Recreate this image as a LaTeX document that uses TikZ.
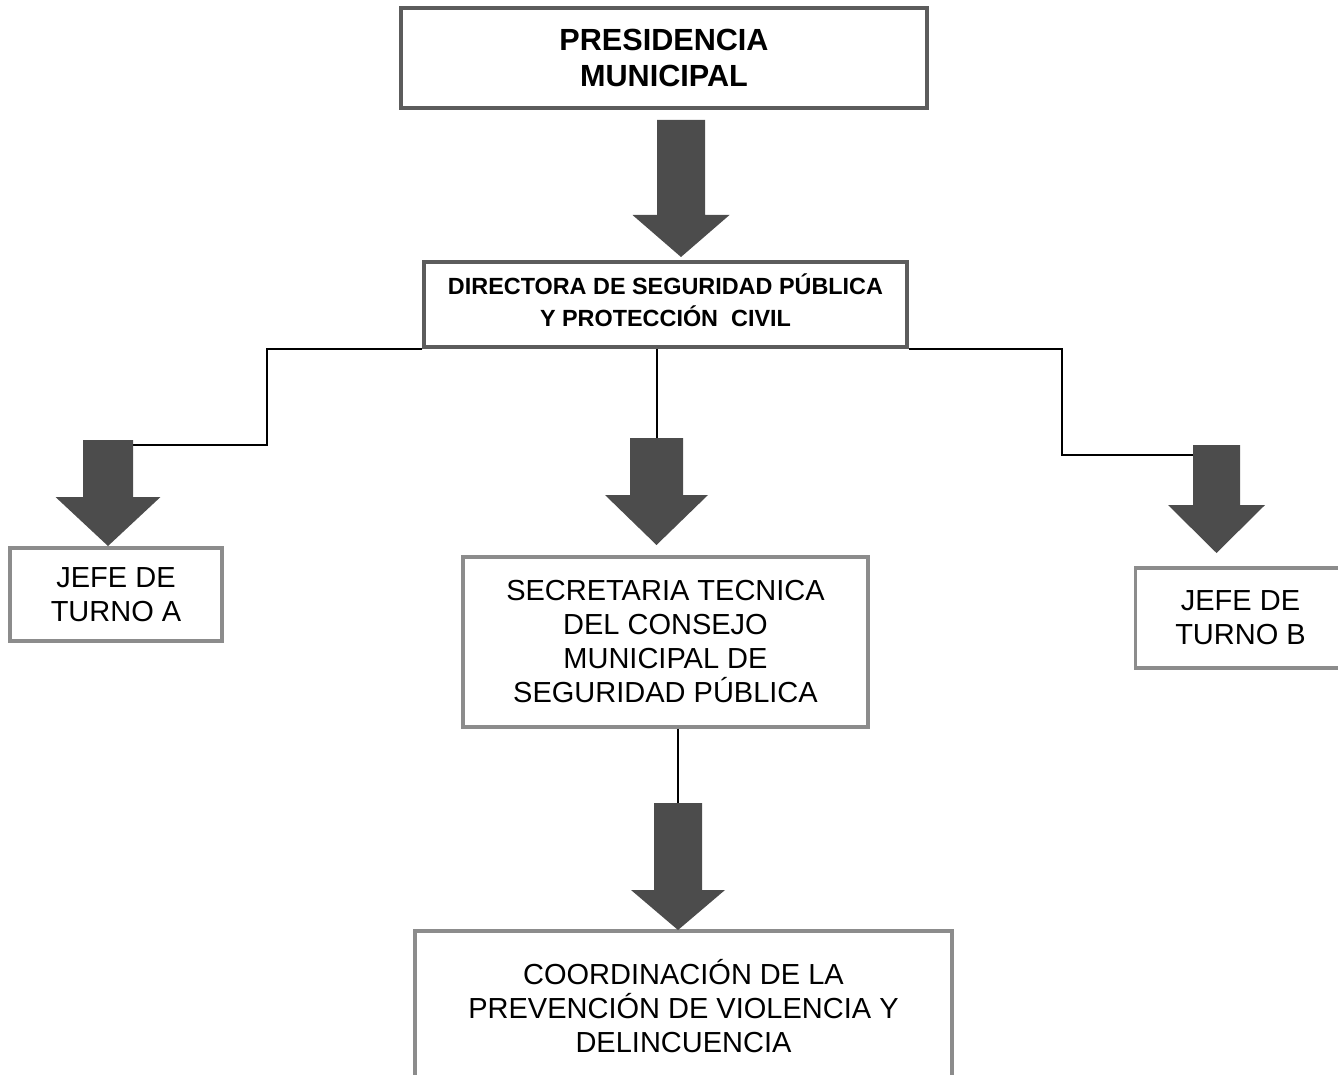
\documentclass[tikz,border=0pt]{standalone}
\usepackage{fontspec}
\setmainfont{Liberation Sans}
\usetikzlibrary{calc}

\definecolor{boxgray}{HTML}{8C8C8C}
\definecolor{darkedge}{HTML}{5C5C5C}
\definecolor{arrowgray}{HTML}{4C4C4C}

% block arrow: name, x, top y, neck y, tip y, shaft half width, head half width
\newcommand{\blockarrow}[7]{%
  \coordinate (#1) at (#2,#3);
  \coordinate (#1 tip) at (#2,#5);
  \fill[bigarrow] (#2-#6,#3) -- (#2+#6,#3) -- (#2+#6,#4) -- (#2+#7,#4)
    -- (#1 tip) -- (#2-#7,#4) -- (#2-#6,#4) -- cycle;}

\begin{document}
\begin{tikzpicture}[x=0.5pt, y=-0.5pt,
    unitbox/.style={draw=boxgray, line width=1.6pt, fill=white, align=center,
      inner sep=0pt, font=\fontsize{14.5}{17}\selectfont},
    headbox/.style={unitbox, draw=darkedge, font=\bfseries\fontsize{15.3}{18}\selectfont},
    dirbox/.style={unitbox, draw=darkedge, font=\bfseries\fontsize{11.7}{16}\selectfont},
    link/.style={line width=1pt, black},
    bigarrow/.style={fill=arrowgray}]
        \useasboundingbox (0,0) rectangle (1338,1075);

        \node[headbox, minimum width=263pt, minimum height=50pt] (pres) at (664,58)
            {PRESIDENCIA\\MUNICIPAL};
        \node[dirbox, minimum width=241.5pt, minimum height=42.5pt] (dir) at (665.5,304.5)
            {\raisebox{2.5pt}{\begin{tabular}{@{}c@{}}DIRECTORA DE SEGURIDAD PÚBLICA\\
              Y PROTECCIÓN\ \ CIVIL\end{tabular}}};

        \node[unitbox, minimum width=106pt, minimum height=46.5pt] (jefeA) at (116,594.5)
            {JEFE DE\\TURNO A};
        \node[unitbox, minimum width=202.5pt, minimum height=85pt] (secre) at (665.5,642)
            {SECRETARIA TECNICA\\DEL CONSEJO\\MUNICIPAL DE\\SEGURIDAD PÚBLICA};
        \node[unitbox, minimum width=105pt, minimum height=50pt] (jefeB) at (1240.5,618)
            {JEFE DE\\TURNO B};
        \node[unitbox, minimum width=268.5pt, minimum height=75pt] (coord) at (683.5,1006)
            {COORDINACIÓN DE LA\\PREVENCIÓN DE VIOLENCIA Y\\DELINCUENCIA};

        % arrow tops for the thin lines
        \coordinate (aA) at (108,440);
        \coordinate (aM) at (656.5,438);
        \coordinate (aB) at (1216.5,445);
        \coordinate (aS) at (678,803);
        \coordinate (kA) at (267,445);
        \coordinate (kB) at (1062,455);

        \draw[link] (dir.south west) -| (kA) -- (kA -| aA);
        \draw[link] (dir.south east) -| (kB) -- (kB -| aB);
        \draw[link] (dir.south -| aM) -- (aM);
        \draw[link] (secre.south -| aS) -- (aS);

        \blockarrow{a0}{681}{120}{215}{257}{24}{48.5}
        \blockarrow{aA}{108}{440}{497}{546}{25}{52.5}
        \blockarrow{aM}{656.5}{438}{495}{545}{26.5}{51.5}
        \blockarrow{aB}{1216.5}{445}{505}{553}{23.5}{48.5}
        \blockarrow{aS}{678}{803}{890}{930}{24}{47}

    \end{tikzpicture}
\end{document}
